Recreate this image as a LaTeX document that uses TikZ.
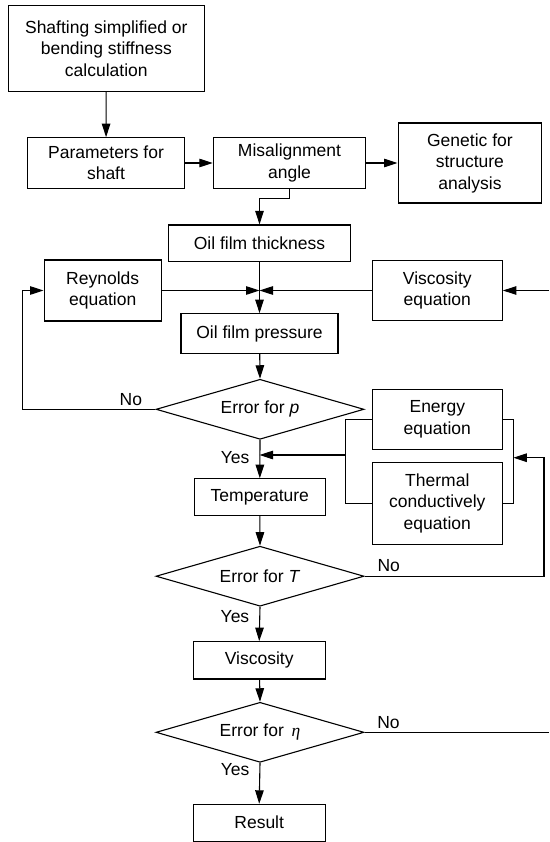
\documentclass[tikz,border=0pt]{standalone}
\usepackage{fontspec}
\setmainfont{Liberation Sans}
\newfontfamily\etafont{Liberation Serif}
\usetikzlibrary{shapes.geometric,arrows.meta}

\begin{document}
\begin{tikzpicture}[x=1pt,y=-1pt,line width=1.1pt,font=\fontsize{17.5}{21.5}\selectfont,
  box/.style={draw,rectangle,inner sep=0pt,align=center},
  test/.style={draw,diamond,aspect=3.5,inner sep=0pt,minimum width=208pt,minimum height=60pt},
  lab/.style={inner sep=0pt},
  >={Triangle[length=13.5pt,width=8.5pt]}]
  \useasboundingbox (0,0) rectangle (549,842);
  \node[box,minimum width=196pt,minimum height=86pt] (shaft) at (106.3,48.7) {Shafting simplified or\\bending stiffness\\calculation};
  \node[box,minimum width=156.6pt,minimum height=50.6pt] (param) at (106,163) {Parameters for\\shaft};
  \node[box,minimum width=152.4pt,minimum height=50.6pt] (misal) at (289.5,163) {Misalignment\\angle};
  \node[box,minimum width=143.7pt,minimum height=80pt] (genetic) at (469.9,163) {Genetic for\\structure\\analysis};
  \node[box,minimum width=182.4pt,minimum height=36.7pt] (thick) at (259.5,243.3) {Oil film thickness};
  \node[box,minimum width=117.3pt,minimum height=61pt] (reyn) at (102.7,290.5) {Reynolds\\equation};
  \node[box,minimum width=130pt,minimum height=60.7pt] (viseq) at (437.3,290.5) {Viscosity\\equation};
  \node[box,minimum width=157pt,minimum height=39.6pt] (press) at (259.5,333.5) {Oil film pressure};
  \node[test] (errp) at (260,409.3) {Error for \textit{p}};
  \node[box,minimum width=130pt,minimum height=60.3pt] (energy) at (437.3,419.2) {Energy\\equation};
  \node[box,minimum width=130pt,minimum height=81.7pt] (thermal) at (437.3,503.2) {Thermal\\conductively\\equation};
  \node[box,minimum width=131pt,minimum height=36.5pt] (temp) at (259.8,497) {Temperature};
  \node[test] (errT) at (260,576.2) {Error for \textit{T}};
  \node[box,minimum width=131.7pt,minimum height=37.3pt] (visc) at (259.2,660.3) {Viscosity};
  \node[test] (erreta) at (260,732.3) {Error for\, {\etafont\itshape η}};
  \node[box,minimum width=131.7pt,minimum height=36.7pt] (result) at (259.2,822.7) {Result};

  \coordinate (join) at (thick.south |- reyn.east);
  \coordinate (visin) at (549,290.5);
  \coordinate (etaout) at (549,732.3);
  \coordinate (lbr) at (345.7,455);
  \coordinate (rbr) at (513.3,457.7);

  \draw[->] (shaft) -- (param);
  \draw[->] (param) -- (misal);
  \draw[->] (misal) -- (genetic);
  \draw[->] (misal.south) -- ++(0,10) -| (thick.north);
  \draw[->] (thick.south) -- (press.north);
  \draw[->] (reyn.east) -- (join);
  \draw[->] (viseq.west) -- (join);
  \draw[->] (visin) -- (viseq.east);
  \draw[->] (press) -- (errp.north);
  \draw[->] (errp.west) -- node[lab,pos=0.185,above=3pt] {No} (22.7,409.3) |- (reyn.west);
  \draw[->] (errp.south) -- node[lab,pos=0.45,left=10pt] {Yes} (temp.north);
  \draw (energy.west) -| (lbr |- thermal.west) -- (thermal.west);
  \draw (energy.east) -| (rbr |- thermal.east) -- (thermal.east);
  \draw[->] (lbr) -- (lbr -| join);
  \draw[->] (errT.east) -- node[lab,pos=0.135,above=4pt] {No} (544,576.2) |- (rbr);
  \draw[->] (temp) -- (errT.north);
  \draw[->] (errT.south) -- node[lab,pos=0.29,left=10pt] {Yes} (visc.north);
  \draw[->] (visc) -- (erreta.north);
  \draw (erreta.east) -- node[lab,pos=0.13,above=3.5pt] {No} (etaout);
  \draw[->] (erreta.south) -- node[lab,pos=0.17,left=10pt] {Yes} (result.north);
\end{tikzpicture}
\end{document}
